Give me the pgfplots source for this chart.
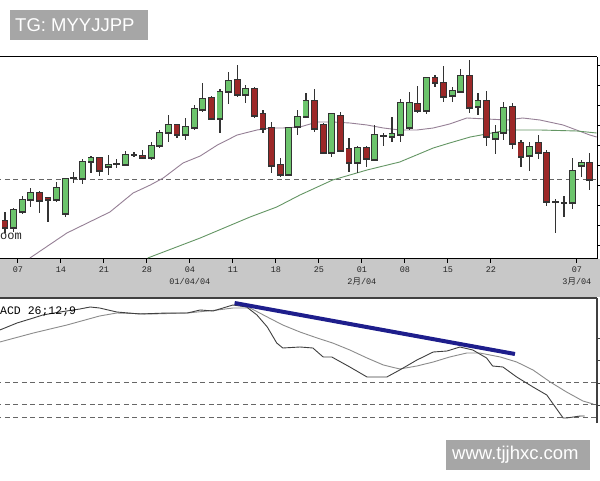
\documentclass[border=0pt]{standalone}
\usepackage{pgfplots}
\pgfplotsset{compat=1.18}
\usepackage{pgfplotstable}
\usepackage{fontspec}
\setmainfont{Liberation Sans}
\setmonofont{Liberation Mono}
\newfontfamily\cjk{Noto Sans CJK SC}

\definecolor{upgreen}{RGB}{108,196,108}
\definecolor{downred}{RGB}{156,40,40}
\definecolor{maone}{RGB}{150,128,150}
\definecolor{matwo}{RGB}{100,150,100}
\definecolor{band}{RGB}{200,200,200}
\definecolor{wm}{RGB}{166,166,166}
\definecolor{trend}{RGB}{30,30,140}

% candles: day index, open, high, low, close
\pgfplotstableread{
i o h l c
1 252 272 248 270
2 268 284 266 280
3 280 292 273 287
6 280 298 278 292
7 266 302 263 301
9 301 321 296 318
10 318 324 307 322
12 313 325 305 315
14 315 329 314 325
17 322 338 320 334
18 334 350 332 347
19 347 365 338 355
21 345 362 340 353
22 352 375 350 371
23 370 397 368 381
25 361 391 347 388
26 388 408 376 399
28 385 395 377 391
33 305 353 305 352
34 353 370 345 363
35 363 387 363 379
38 327 367 323 366
41 317 334 307 332
43 320 355 319 345
45 343 363 338 346
46 345 381 338 377
47 352 388 350 377
49 369 403 366 402
52 384 393 378 389
53 388 411 387 404
55 373 387 365 379
57 341 355 326 347
58 347 378 340 372
61 324 338 309 333
66 277 322 271 309
67 314 320 303 317
}\upc

\pgfplotstableread{
i o h l c
0 259 268 247 252
4 287 289 267 279
5 282 283 258 280
11 322 323 304 309
16 324 330 321 322
20 355 356 342 345
24 382 384 360 361
27 400 415 383 385
29 391 393 362 364
30 366 370 347 351
31 352 358 307 314
32 315 322 303 305
36 379 391 348 351
37 355 357 326 327
39 364 368 328 329
40 331 342 308 317
42 332 334 313 321
48 376 394 367 369
50 402 405 393 397
51 397 414 378 383
54 404 420 367 372
56 379 389 334 343
59 373 377 331 336
60 337 340 313 323
62 337 345 321 327
63 327 330 274 278
68 317 327 290 300
}\downc

\pgfplotstableread{
i o h l c
8 302 308 297 302
13 316 321 312 316
15 325 328 323 325
44 344 347 334 344
64 278 281 247 278
65 277 284 263 277
}\flatc

\pgfplotsset{
  nomark/.style={only marks, mark=*, mark size=0pt, mark options={draw=none, fill=none}, forget plot},
  wick/.style={nomark,
    error bars/.cd, y dir=plus, y explicit, error mark=none,
    error bar style={line width=1.1pt, black!80}},
  bodyedge/.style={nomark,
    error bars/.cd, y dir=plus, y explicit, error mark=none,
    error bar style={line width=6.8pt, black!80}},
  bodyfill/.style={nomark,
    error bars/.cd, y dir=plus, y explicit, error mark=none,
    error bar style={line width=5pt, #1}},
  refline/.style={black!60, line width=0.9pt, dash pattern=on 5pt off 3.5pt, forget plot},
}

\begin{document}
\begin{tikzpicture}[x=1pt, y=1pt]
\path[use as bounding box] (0,0) rectangle (600,480);
\clip (0,0) rectangle (600,480);
\fill[white] (0,0) rectangle (600,480);
\fill[band] (0,183) rectangle (600,221);

\begin{axis}[
  at={(0pt,221pt)}, anchor=south west,
  scale only axis, width=597pt, height=202pt,
  xmin=-0.58, xmax=68.84, ymin=221, ymax=423,
  axis x line*=box, axis y line*=right,
  axis line style={-, black, line width=1pt},
  xtick={1.5,6.5,11.5,16.5,21.5,26.5,31.5,36.5,41.5,46.5,51.5,56.5,66.5},
  xticklabels={07,14,21,28,{04\\01/04/04},11,18,25,{01\\2{\cjk 月}/04},08,15,22,{07\\3{\cjk 月}/04}},
  xtick pos=bottom,
  ytick={235,255,275,295,315,335,355,375,395,415}, yticklabels={},
  tick align=outside, major tick length=4pt,
  every tick/.style={black, line width=0.8pt},
  xticklabel style={font=\ttfamily\fontsize{8.5}{12}\selectfont, align=center, black!85},
]
\addplot[refline] coordinates {(-1,301) (70,301)};
% 20-day average
\addplot[maone, line width=0.9pt] coordinates {
(2.9,222) (7.2,247) (12.2,268) (14.9,287) (16.9,295) (18.4,302) (20.7,317)
(22.7,324) (24.7,335) (27.0,345) (29.3,350) (30.8,352) (32.3,352) (34.3,353)
(36.3,358) (38.1,358) (40.1,357) (42.1,355) (44.0,352) (45.9,350) (47.9,350)
(49.8,352) (51.7,356) (53.7,362) (56.0,361) (58.4,360) (60.2,362) (62.2,360)
(64.9,355) (68.0,345) (68.8,343)};
% longer average
\addplot[matwo, line width=0.9pt] coordinates {
(16.6,222) (22.7,242) (28.5,263) (31.6,273) (34.3,285) (38.1,300) (42.1,310)
(45.9,318) (49.8,332) (51.7,337) (54.1,343) (56.0,346) (58.4,350) (62.2,350)
(66.5,349) (68.8,347)};

\addplot[wick] table[x=i, y=l, y error expr=\thisrow{h}-\thisrow{l}] {\upc};
\addplot[wick] table[x=i, y=l, y error expr=\thisrow{h}-\thisrow{l}] {\downc};
\addplot[wick] table[x=i, y=l, y error expr=\thisrow{h}-\thisrow{l}] {\flatc};

\addplot[bodyedge] table[x=i, y expr={min(\thisrow{o},\thisrow{c})-0.6}, y error expr={abs(\thisrow{c}-\thisrow{o})+1.2}] {\upc};
\addplot[bodyedge] table[x=i, y expr={min(\thisrow{o},\thisrow{c})-0.6}, y error expr={abs(\thisrow{c}-\thisrow{o})+1.2}] {\downc};
\addplot[bodyedge] table[x=i, y expr={min(\thisrow{o},\thisrow{c})-0.6}, y error expr={abs(\thisrow{c}-\thisrow{o})+1.2}] {\flatc};

\addplot[bodyfill=upgreen] table[x=i, y expr={min(\thisrow{o},\thisrow{c})+0.5}, y error expr={max(abs(\thisrow{c}-\thisrow{o})-1,0)}] {\upc};
\addplot[bodyfill=downred] table[x=i, y expr={min(\thisrow{o},\thisrow{c})+0.5}, y error expr={max(abs(\thisrow{c}-\thisrow{o})-1,0)}] {\downc};
\end{axis}

\begin{axis}[
  at={(0pt,57pt)}, anchor=south west,
  scale only axis, width=597pt, height=125pt,
  xmin=-0.58, xmax=68.84, ymin=57, ymax=182,
  axis x line*=top, axis y line*=right,
  axis line style={-, black!75, line width=1.2pt},
  xtick=\empty,
  ytick={75,97,120,142}, yticklabels={},
  tick align=outside, major tick length=3pt,
  every tick/.style={black!75, line width=0.8pt},
]
\addplot[refline] coordinates {(-1,98) (70,98)};
\addplot[refline] coordinates {(-1,76) (70,76)};
\addplot[refline] coordinates {(-1,63) (70,63)};
% signal line
\addplot[black!45, line width=0.9pt] coordinates {
(-0.6,138) (3.3,147) (7.2,155) (11.0,164) (13.0,167) (16.9,166) (21.2,167)
(24.7,170) (26.5,172) (28.5,172) (30.5,163) (32.3,155) (34.3,148) (36.3,142)
(38.1,137) (40.1,130) (42.1,122) (44.0,115) (45.9,111) (47.9,114) (49.8,118)
(51.7,123) (53.7,127) (55.2,127) (57.6,123) (59.5,118) (61.4,110) (63.4,98)
(65.3,88) (67.2,79) (68.4,76)};
% MACD line
\addplot[black!75, line width=0.9pt] coordinates {
(-0.6,150) (1.4,157) (3.3,162) (4.4,165) (6.4,168) (8.7,171) (9.9,173)
(11.0,172) (13.0,168) (15.7,166) (18.8,167) (21.2,167) (22.7,170) (24.2,169)
(26.5,175) (28.1,173) (29.3,165) (30.5,153) (31.6,137) (32.3,132) (34.3,133)
(35.8,132) (37.0,123) (38.0,123) (40.1,113) (42.1,103) (44.4,103) (45.9,110)
(47.9,120) (49.8,128) (51.4,129) (52.9,133) (54.4,130) (56.0,122) (56.7,114)
(57.9,113) (59.5,103) (61.4,93) (63.0,85) (64.9,62) (65.3,62) (66.9,64) (67.4,64)};
% divergence line
\addplot[trend, line width=4pt] coordinates {(26.7,177) (59.3,126)};
\end{axis}

\node[anchor=west, inner sep=0pt, font=\ttfamily\fontsize{11.5}{12}\selectfont] at (0,168) {ACD 26;12;9};
\node[anchor=west, inner sep=0pt, font=\ttfamily\fontsize{12}{12}\selectfont, black!85] at (0,244) {oom};

\fill[wm] (10,440) rectangle (148,470);
\node[anchor=west, inner sep=0pt, text=white, font=\fontsize{18.5}{20}\selectfont] at (15,455) {TG: MYYJJPP};
\fill[wm] (446,10) rectangle (590,40);
\node[anchor=west, inner sep=0pt, text=white, font=\fontsize{18.5}{20}\selectfont] at (452,25) {www.tjjhxc.com};
\end{tikzpicture}
\end{document}
